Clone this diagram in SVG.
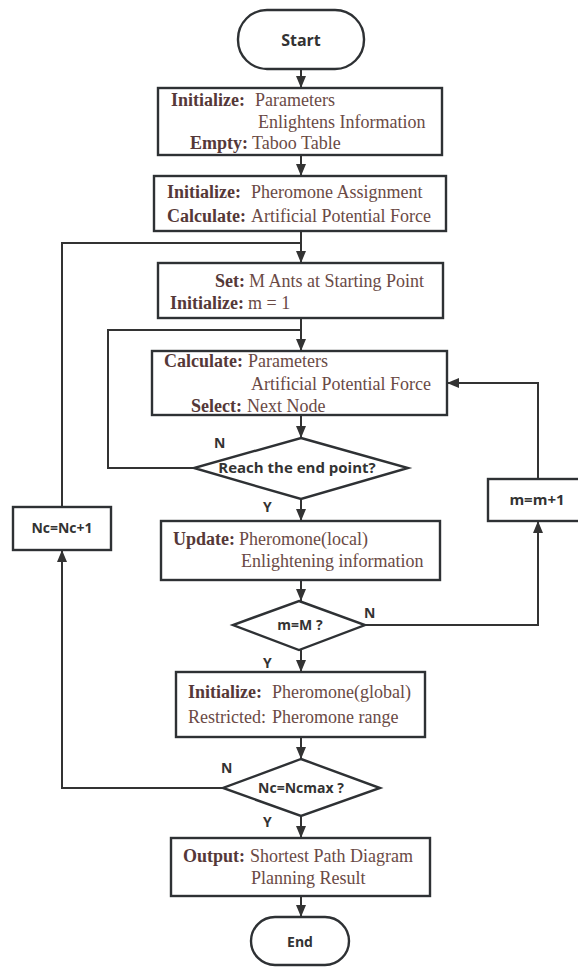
<svg xmlns="http://www.w3.org/2000/svg" width="578" height="967" viewBox="0 0 578 967">
<style>
.box{fill:#fff;stroke:#2e3134;stroke-width:2.4}
.ln{fill:none;stroke:#333;stroke-width:2}
.s{font-family:"Liberation Serif","Times New Roman",serif;font-size:18px;fill:#6a4a45}
.b{font-weight:bold;fill:#553838}
.sans{font-family:"Open Sans","Noto Sans","DejaVu Sans",sans-serif;fill:#333;font-weight:bold;text-anchor:middle}
.lab{font-family:"Open Sans","Noto Sans","DejaVu Sans",sans-serif;fill:#333;font-weight:bold;font-size:14px}
</style>
<defs>
<marker id="ah" markerWidth="12" markerHeight="12" viewBox="0 0 12 12" refX="12" refY="6" orient="auto" markerUnits="userSpaceOnUse">
<path d="M0,1 L12,6 L0,11 Z" fill="#333"/>
</marker>
</defs>
<g id="connectors">
<path class="ln" d="M301,69 V88" marker-end="url(#ah)"/>
<path class="ln" d="M301,155 V176" marker-end="url(#ah)"/>
<path class="ln" d="M301,231 V263" marker-end="url(#ah)"/>
<path class="ln" d="M62,507 V243 H301"/>
<path class="ln" d="M301,318 V351" marker-end="url(#ah)"/>
<path class="ln" d="M194,468 H108 V330 H301"/>
<path class="ln" d="M301,415 V438" marker-end="url(#ah)"/>
<path class="ln" d="M301,499 V521" marker-end="url(#ah)"/>
<path class="ln" d="M301,580 V601" marker-end="url(#ah)"/>
<path class="ln" d="M365,625 H538 V521" marker-end="url(#ah)"/>
<path class="ln" d="M538,479 V383 H447" marker-end="url(#ah)"/>
<path class="ln" d="M301,650 V672" marker-end="url(#ah)"/>
<path class="ln" d="M301,737 V759" marker-end="url(#ah)"/>
<path class="ln" d="M223,788 H62 V550" marker-end="url(#ah)"/>
<path class="ln" d="M301,816 V838" marker-end="url(#ah)"/>
<path class="ln" d="M301,896 V917" marker-end="url(#ah)"/>
<text class="lab" x="214" y="448">N</text>
<text class="lab" x="263" y="512">Y</text>
<text class="lab" x="364" y="618">N</text>
<text class="lab" x="263" y="668">Y</text>
<text class="lab" x="221" y="773">N</text>
<text class="lab" x="263" y="827">Y</text>
</g>
<g id="start">
<rect class="box" x="238" y="10" width="126" height="59" rx="29"/>
<text class="sans" x="301" y="46" font-size="16">Start</text>
</g>
<g id="init1">
<rect class="box" x="158" y="88" width="284" height="67"/>
<text class="s" y="106"><tspan class="b" x="171">Initialize:</tspan><tspan x="255">Parameters</tspan></text>
<text class="s" x="258" y="128">Enlightens Information</text>
<text class="s" y="149"><tspan class="b" x="190">Empty:</tspan><tspan x="252">Taboo Table</tspan></text>
</g>
<g id="init2">
<rect class="box" x="154" y="176" width="292" height="55"/>
<text class="s" y="198"><tspan class="b" x="167">Initialize:</tspan><tspan x="251">Pheromone Assignment</tspan></text>
<text class="s" y="222"><tspan class="b" x="167">Calculate:</tspan><tspan x="251">Artificial Potential Force</tspan></text>
</g>
<g id="setants">
<rect class="box" x="158" y="263" width="285" height="55"/>
<text class="s" y="287"><tspan class="b" x="215">Set:</tspan><tspan x="249">M Ants at Starting Point</tspan></text>
<text class="s" y="309"><tspan class="b" x="170">Initialize:</tspan><tspan x="248">m = 1</tspan></text>
</g>
<g id="calc">
<rect class="box" x="152" y="351" width="295" height="64"/>
<text class="s" y="367"><tspan class="b" x="164">Calculate:</tspan><tspan x="248">Parameters</tspan></text>
<text class="s" x="251" y="390">Artificial Potential Force</text>
<text class="s" y="412"><tspan class="b" x="191">Select:</tspan><tspan x="247">Next Node</tspan></text>
</g>
<g id="reachend">
<polygon class="box" points="301,438 408,468 301,499 194,468"/>
<text class="sans" x="297" y="473" font-size="15">Reach the end point?</text>
</g>
<g id="update">
<rect class="box" x="161" y="521" width="279" height="59"/>
<text class="s" y="545"><tspan class="b" x="173">Update:</tspan><tspan x="239">Pheromone(local)</tspan></text>
<text class="s" x="241" y="567">Enlightening information</text>
</g>
<g id="mcheck">
<polygon class="box" points="299,601 365,625 299,650 233,625"/>
<text class="sans" x="300" y="630" font-size="14">m=M ?</text>
</g>
<g id="mplus">
<rect class="box" x="488" y="479" width="98" height="42"/>
<text class="sans" x="537" y="505" font-size="15">m=m+1</text>
</g>
<g id="ncplus">
<rect class="box" x="13" y="507" width="98" height="43"/>
<text class="sans" x="62" y="533" font-size="14">Nc=Nc+1</text>
</g>
<g id="global">
<rect class="box" x="176" y="672" width="249" height="65"/>
<text class="s" y="698"><tspan class="b" x="188">Initialize:</tspan><tspan x="272">Pheromone(global)</tspan></text>
<text class="s" y="723"><tspan x="188">Restricted:</tspan><tspan x="272">Pheromone range</tspan></text>
</g>
<g id="nccheck">
<polygon class="box" points="301,759 380,788 301,816 223,788"/>
<text class="sans" x="301" y="793" font-size="14">Nc=Ncmax ?</text>
</g>
<g id="output">
<rect class="box" x="171" y="838" width="259" height="58"/>
<text class="s" y="862"><tspan class="b" x="183">Output:</tspan><tspan x="250">Shortest Path Diagram</tspan></text>
<text class="s" x="251" y="884">Planning Result</text>
</g>
<g id="end">
<rect class="box" x="251" y="917" width="98" height="48" rx="24"/>
<text class="sans" x="300" y="947" font-size="14" font-weight="600">End</text>
</g>
</svg>
